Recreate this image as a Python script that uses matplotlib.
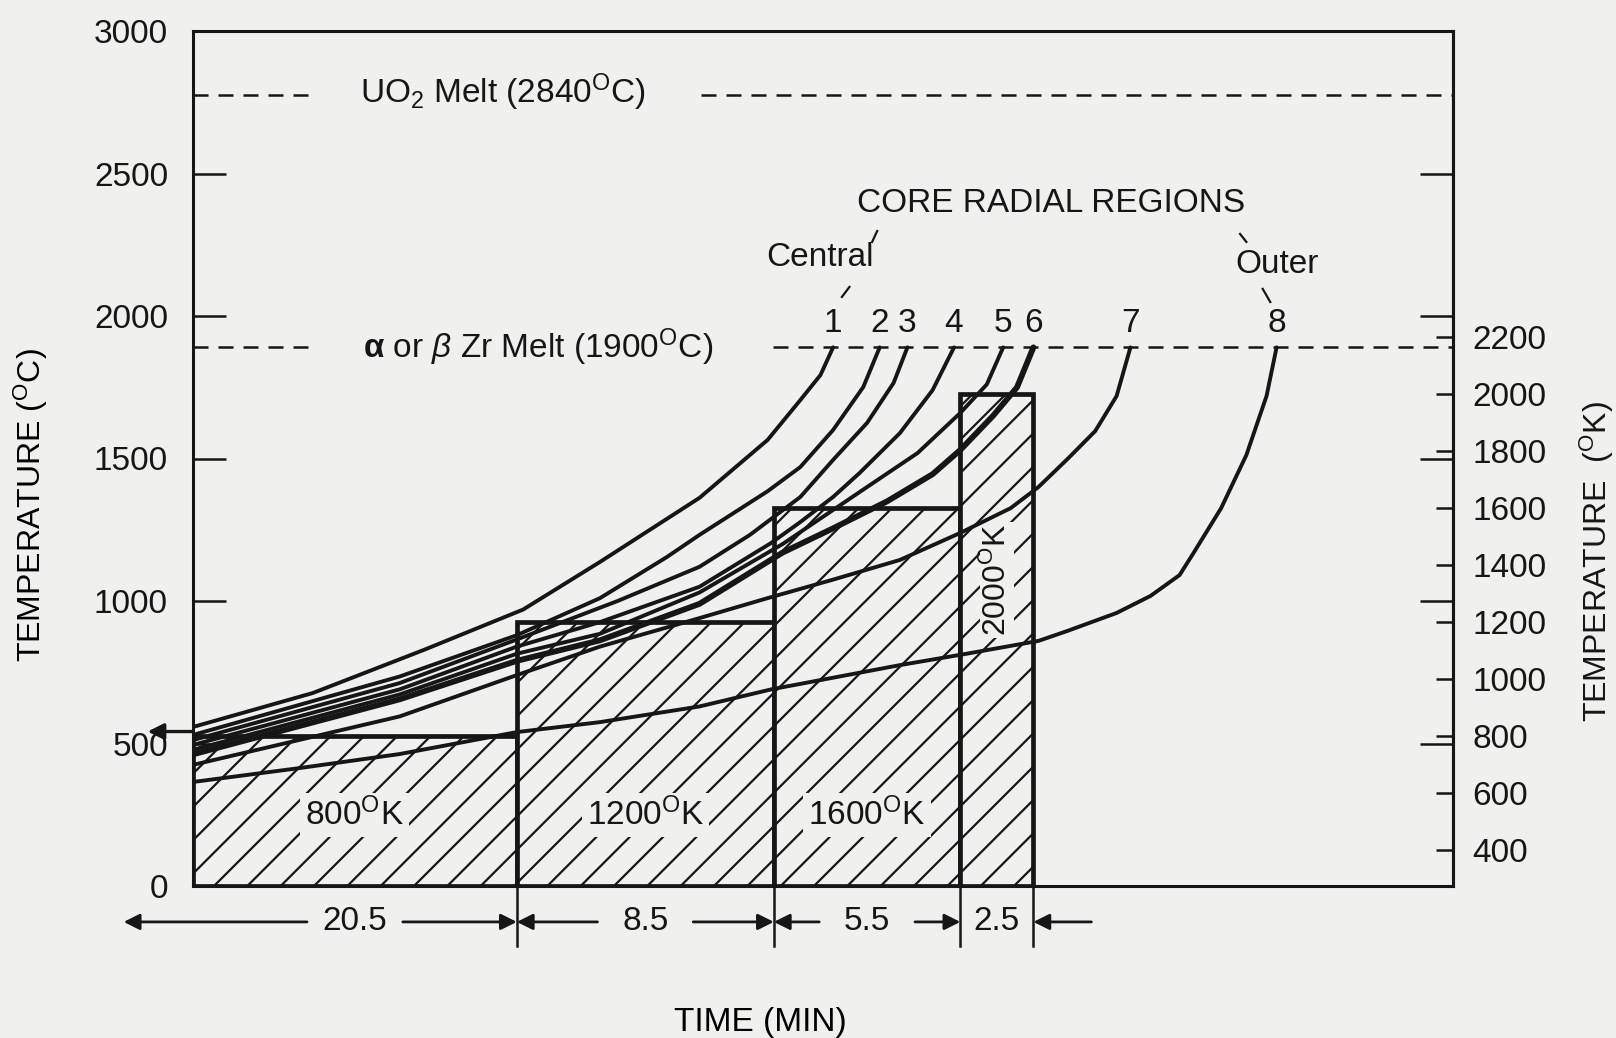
import matplotlib
matplotlib.use("Agg")
import numpy as np
import matplotlib.pyplot as plt

INK = "#161616"
PAPER = "#f0f0ee"

plt.rcParams.update({
    "font.family": ["Liberation Sans", "DejaVu Sans"],
    "mathtext.fontset": "custom",
    "mathtext.rm": "Liberation Sans",
    "mathtext.it": "Liberation Sans:italic",
    "mathtext.bf": "Liberation Sans:bold",
    "hatch.linewidth": 1.6,
    "hatch.color": INK,
    "text.color": INK,
    "axes.edgecolor": INK,
    "ytick.color": INK,
    "xtick.color": INK,
})

# ------------------------------------------------------------
#  data (schematic time axis: frame width = 100 units,
#  blocks are drawn as in the original, not to scale in minutes)
# ------------------------------------------------------------
block_edges = [0.0, 25.7, 46.1, 60.9, 66.7]
block_temps_K = [800, 1200, 1600, 2000]
block_minutes = ["20.5", "8.5", "5.5", "2.5"]

uo2_melt_C = 2775
zr_melt_C = 1890

region_names = ["1", "2", "3", "4", "5", "6", "7", "8"]

c1_x = [0, 9.5, 18.3, 26.2, 32.3, 40.2, 45.6, 48.2, 49.8, 50.8]
c1_T = [558, 677, 828, 970, 1137, 1362, 1565, 1705, 1793, 1890]

c2_x = [0, 16.4, 25.7, 32.3, 37.6, 40.2, 45.6, 48.2, 50.8, 53.2, 54.5]
c2_T = [530, 735, 880, 1010, 1154, 1232, 1385, 1470, 1600, 1751, 1890]

c3_x = [0, 16.4, 25.7, 33.7, 40.2, 44.2, 48.2, 50.8, 53.5, 55.6, 56.7]
c3_T = [512, 712, 865, 1000, 1120, 1232, 1365, 1495, 1625, 1765, 1890]

c4_x = [0, 16.4, 25.7, 32.3, 40.2, 45.9, 48.2, 50.8, 52.9, 56.1, 58.7, 60.4]
c4_T = [495, 690, 840, 926, 1050, 1204, 1277, 1365, 1449, 1589, 1740, 1890]

c5_x = [0, 16.4, 25.7, 32.3, 40.2, 46.8, 53.5, 57.5, 60.9, 63.0, 64.3]
c5_T = [478, 672, 815, 885, 1030, 1200, 1400, 1519, 1660, 1760, 1890]

c6_x = [0, 16.4, 25.7, 32.3, 40.2, 46.8, 50.8, 55.1, 58.7, 60.9, 63.5, 65.4, 66.7]
c6_T = [462, 655, 790, 862, 990, 1170, 1255, 1350, 1445, 1530, 1650, 1750, 1890]

c7_x = [0, 16.4, 25.7, 32.3, 40.2, 45.6, 50.8, 56.1, 60.9, 64.9, 67.1, 69.4, 71.6, 73.3, 74.4]
c7_T = [425, 595, 740, 840, 940, 1010, 1075, 1144, 1239, 1326, 1400, 1498, 1596, 1719, 1890]

c8_x = [0, 8.5, 16.4, 25.7, 32.3, 40.2, 45.9, 56.1, 61.4, 67.1, 69.4, 73.3, 76.0, 78.3, 79.4,
        81.6, 83.6, 85.2, 86.0]
c8_T = [365, 414, 463, 540, 575, 630, 690, 775, 815, 860, 895, 958, 1018, 1091, 1168,
        1326, 1512, 1719, 1890]

curves = [(c1_x, c1_T), (c2_x, c2_T), (c3_x, c3_T), (c4_x, c4_T),
          (c5_x, c5_T), (c6_x, c6_T), (c7_x, c7_T), (c8_x, c8_T)]

c_ticks = [0, 500, 1000, 1500, 2000, 2500, 3000]
k_ticks = [400, 600, 800, 1000, 1200, 1400, 1600, 1800, 2000, 2200]


def c_to_k(c):
    return np.asarray(c) + 273.0


def k_to_c(k):
    return np.asarray(k) - 273.0


# ------------------------------------------------------------
fig = plt.figure(figsize=(16.16, 10.38), dpi=100, facecolor=PAPER)
ax = fig.add_axes([193 / 1616, 152 / 1038, 1260 / 1616, 855 / 1038])
ax.set_facecolor(PAPER)
ax.set_xlim(0, 100)
ax.set_ylim(0, 3000)

FS = 24

# heating blocks
edges = np.array(block_edges)
temps_C = k_to_c(block_temps_K)
ax.bar(edges[:-1], temps_C, width=np.diff(edges), align="edge",
       facecolor=PAPER, edgecolor=INK, hatch="/", linewidth=3.4, zorder=1)

for i, (lo, hi) in enumerate(zip(edges[:-1], edges[1:])):
    mid = 0.5 * (lo + hi)
    lab = f"{block_temps_K[i]}$^{{\\mathrm{{O}}}}$K"
    if i < 3:
        ax.text(mid, 250, lab, ha="center", va="center", fontsize=FS, zorder=2,
                bbox=dict(boxstyle="square,pad=0.15", fc=PAPER, ec="none"))
    else:
        ax.text(mid, 1075, lab, ha="center", va="center", fontsize=FS - 1,
                rotation=90, zorder=2,
                bbox=dict(boxstyle="square,pad=0.05", fc=PAPER, ec="none"))

# arrow at the left of the first block
ax.annotate("", xy=(-3.6, temps_C[0] + 15), xytext=(0, temps_C[0] + 15),
            arrowprops=dict(arrowstyle="-|>", color=INK, lw=2.4,
                            mutation_scale=24, shrinkA=0, shrinkB=0),
            annotation_clip=False)

# heat-up curves
for i, (cx, cT) in enumerate(curves):
    lw = 4.2 if i == 5 else 2.8
    ax.plot(cx, cT, color=INK, lw=lw, solid_capstyle="round",
            solid_joinstyle="round", zorder=3)
    ax.text(cx[-1], 1972, region_names[i], ha="center", va="center", fontsize=FS)

# melt lines
dash = (0, (6, 4))
ax.hlines([uo2_melt_C, uo2_melt_C], [0, 40.3], [9.7, 100], colors=INK,
          linestyles=dash, lw=1.8, zorder=2)
ax.hlines([zr_melt_C, zr_melt_C], [0, 46.0], [9.4, 100], colors=INK,
          linestyles=dash, lw=1.8, zorder=2)
ax.text(24.6, uo2_melt_C + 10, "UO$_2$ Melt (2840$^{\\mathrm{O}}$C)",
        ha="center", va="center", fontsize=FS)
ax.text(27.4, zr_melt_C, "$\\mathbf{α}$ or $\\mathit{β}$ Zr Melt (1900$^{\\mathrm{O}}$C)",
        ha="center", va="center", fontsize=FS)

# region annotations
ax.text(68.1, 2393, "CORE RADIAL REGIONS", ha="center", va="center", fontsize=FS)
ax.text(49.8, 2204, "Central", ha="center", va="center", fontsize=FS)
ax.text(86.0, 2182, "Outer", ha="center", va="center", fontsize=FS)
for (xa, xb), (ya, yb) in [((53.9, 54.3), (2260, 2298)), ((51.5, 52.1), (2067, 2102)),
                           ((83.1, 83.6), (2288, 2260)), ((84.9, 85.5), (2095, 2049))]:
    ax.plot([xa, xb], [ya, yb], color=INK, lw=1.6, clip_on=False)

# time intervals below the axis
y_row = -126
for e in edges[1:]:
    ax.plot([e, e], [0, -212], color=INK, lw=1.8, clip_on=False, zorder=4)

arrow_kw = dict(arrowstyle="-|>", color=INK, lw=2.0, mutation_scale=24,
                shrinkA=0, shrinkB=0)
gap = 3.8
for i, (lo, hi) in enumerate(zip(edges[:-1], edges[1:])):
    mid = 0.5 * (lo + hi)
    ax.text(mid, y_row, block_minutes[i], ha="center", va="center", fontsize=FS,
            clip_on=False)
    if i < 3:
        left_end = -5.5 if i == 0 else lo
        ax.annotate("", xy=(left_end, y_row), xytext=(mid - gap, y_row),
                    arrowprops=arrow_kw, annotation_clip=False)
        ax.annotate("", xy=(hi, y_row), xytext=(mid + gap, y_row),
                    arrowprops=arrow_kw, annotation_clip=False)
    else:
        ax.annotate("", xy=(hi, y_row), xytext=(hi + 4.6, y_row),
                    arrowprops=arrow_kw, annotation_clip=False)

# axes styling
for sp in ax.spines.values():
    sp.set_linewidth(2.2)
ax.set_xticks([])
ax.set_yticks(c_ticks)
ax.tick_params(axis="y", direction="in", length=24, width=1.8, right=True,
               labelsize=FS, pad=18)
ax.set_xlabel("TIME (MIN)", fontsize=FS, va="center")
ax.xaxis.set_label_coords(0.45, -0.16)
ax.set_ylabel("TEMPERATURE ($^{\\mathrm{O}}$C)", fontsize=23, va="center")
ax.yaxis.set_label_coords(-0.129, 0.446)

sec = ax.secondary_yaxis("right", functions=(c_to_k, k_to_c))
sec.set_yticks(k_ticks)
sec.tick_params(direction="in", length=12, width=1.8, labelsize=FS, pad=14)
sec.spines["right"].set_linewidth(2.2)
ax.text(1.114, 0.379, "TEMPERATURE  ($^{\\mathrm{O}}$K)", transform=ax.transAxes,
        rotation=90, ha="center", va="center", fontsize=23)

fig.savefig("out.png", dpi=100, facecolor=PAPER)
